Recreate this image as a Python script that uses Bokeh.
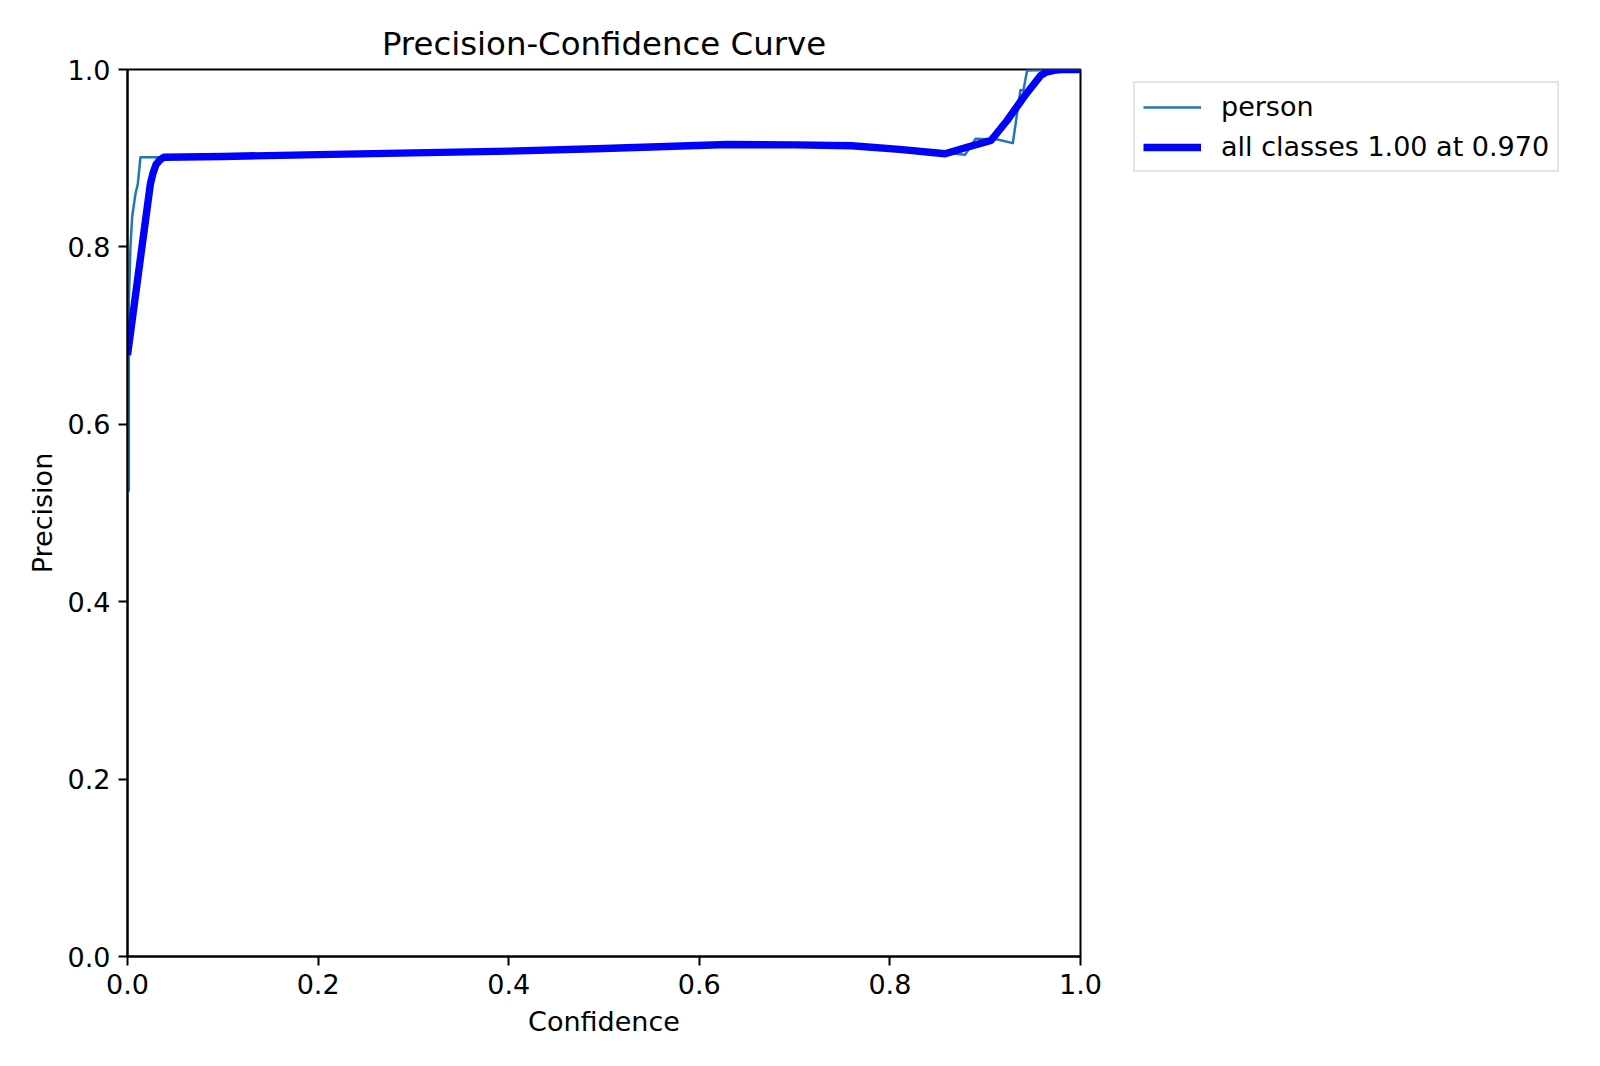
from bokeh.plotting import figure
from bokeh.models import FixedTicker, Legend, LegendItem, Range1d, CustomJSTickFormatter
from bokeh.embed import file_html
from bokeh.resources import INLINE

# ---- data ----
person_conf = [0.0, 0.0014, 0.0014, 0.0031, 0.0049, 0.0084, 0.0108, 0.0136, 0.04, 0.2, 0.4,
               0.63, 0.76, 0.82, 0.858, 0.868, 0.879, 0.89, 0.913, 0.929, 0.937, 0.94, 0.944, 1.0]
person_prec = [0.525, 0.525, 0.74, 0.80, 0.834, 0.86, 0.871, 0.901, 0.901, 0.905, 0.909,
               0.9155, 0.914, 0.91, 0.905, 0.905, 0.904, 0.922, 0.921, 0.917, 0.977, 0.976, 0.999, 1.0]

all_conf = [0.0, 0.024, 0.027, 0.030, 0.034, 0.038, 0.1, 0.2, 0.3, 0.4, 0.5, 0.63, 0.7, 0.76,
            0.81, 0.858, 0.88, 0.906, 0.923, 0.9405, 0.958, 0.964, 0.972, 0.98, 1.0]
all_prec = [0.678, 0.871, 0.884, 0.893, 0.898, 0.901, 0.902, 0.904, 0.906, 0.908, 0.911, 0.9155,
            0.915, 0.914, 0.91, 0.905, 0.912, 0.92, 0.9425, 0.969, 0.993, 0.997, 0.999, 1.0, 1.0]

tick_values = [0.0, 0.2, 0.4, 0.6, 0.8, 1.0]
title_text = "Precision-Confidence Curve"
x_label = "Confidence"
y_label = "Precision"
person_label = "person"
all_label = "all classes 1.00 at 0.970"

FONT = "DejaVu Sans"

p = figure(frame_width=953, frame_height=887, output_backend="svg", toolbar_location=None,
           x_range=Range1d(0, 1), y_range=Range1d(0, 1),
           min_border_left=127, min_border_right=20, min_border_top=69, min_border_bottom=90,
           title=title_text)

p.title.text_font = FONT
p.title.text_font_size = "32.4px"
p.title.text_font_style = "normal"
p.title.text_color = "black"
p.title.align = "center"
p.title.standoff = 14

p.xgrid.visible = False
p.ygrid.visible = False
p.outline_line_color = "black"
p.outline_line_width = 2
p.background_fill_color = "white"
p.border_fill_color = "white"

fmt = CustomJSTickFormatter(code="return tick.toFixed(1);")
for ax in (p.xaxis[0], p.yaxis[0]):
    ax.ticker = FixedTicker(ticks=tick_values)
    ax.formatter = fmt
    ax.axis_line_color = "black"
    ax.axis_line_width = 2
    ax.major_tick_line_color = "black"
    ax.major_tick_line_width = 2
    ax.major_tick_out = 9
    ax.major_tick_in = 0
    ax.minor_tick_line_color = None
    ax.major_label_text_font = FONT
    ax.major_label_text_font_size = "27px"
    ax.major_label_text_color = "black"
    ax.axis_label_text_font = FONT
    ax.axis_label_text_font_size = "27px"
    ax.axis_label_text_font_style = "normal"
    ax.axis_label_text_color = "black"
    ax.major_label_standoff = 8

p.xaxis.axis_label = x_label
p.yaxis.axis_label = y_label
p.xaxis.axis_label_standoff = 9
p.yaxis.axis_label_standoff = 7

r1 = p.line(person_conf, person_prec, line_color="#1f77b4", line_width=2.5, line_join="round")
r2 = p.line(all_conf, all_prec, line_color="blue", line_width=7.4, line_join="round")

legend = Legend(items=[LegendItem(label=person_label, renderers=[r1]),
                       LegendItem(label=all_label, renderers=[r2])])
legend.location = (53, 887 - 15 - 88)
legend.label_text_font = FONT
legend.label_text_font_size = "27px"
legend.label_text_color = "black"
legend.glyph_width = 58
legend.glyph_height = 30
legend.label_height = 30
legend.label_standoff = 20
legend.spacing = 9
legend.padding = 8
legend.margin = 0
legend.border_line_color = "#cccccc"
legend.border_line_width = 2
legend.background_fill_alpha = 1.0
p.add_layout(legend, "right")

open("out.html", "w").write(file_html(p, INLINE))
